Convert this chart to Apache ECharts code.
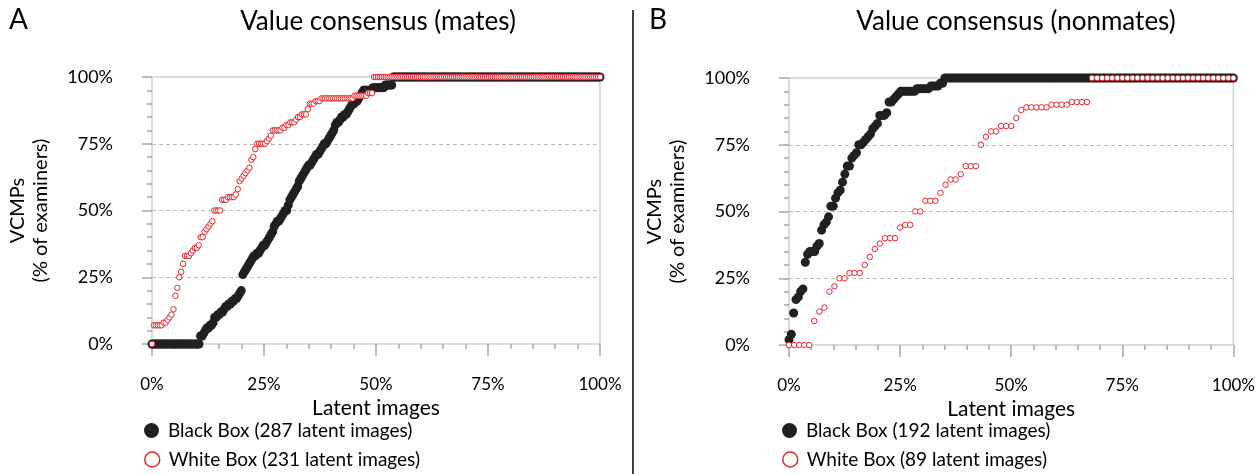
<!DOCTYPE html>
<html>
<head>
<meta charset="UTF-8">
<title>Value consensus</title>
<script src="https://cdn.jsdelivr.net/npm/echarts@6/dist/echarts.min.js"></script>
<style>
  html, body { margin: 0; padding: 0; background: #fff; }
  #chart { width: 1258px; height: 474px; }
</style>
</head>
<body>
<div id="chart"></div>
<script>
// sorted VCMP values (% of examiners) as [value, number of latent images]
var blackMates = [
  [0,31],[3,2],[4,1],[5,1],[6,2],[7,2],[8,1],[10,2],[11,2],[12,2],[13,1],[14,2],[15,2],[16,2],[17,2],[18,1],[19,1],[20,1],
  [26,1],[27,1],[28,1],[29,1],[30,1],[31,1],[32,1],[33,2],[34,2],[35,1],[36,1],[37,2],[38,1],[39,1],[40,1],[41,1],[42,1],
  [44,1],[45,1],[46,2],[47,1],[48,1],[49,1],[50,2],[52,1],[54,1],[55,1],[56,1],[57,1],[58,1],[59,1],[61,1],[62,1],[63,1],
  [64,1],[65,1],[66,1],[67,2],[68,1],[69,1],[70,1],[71,2],[72,1],[73,1],[74,1],[75,2],[76,1],[77,1],[78,1],[79,1],[80,1],
  [82,1],[83,2],[84,1],[85,2],[86,2],[87,1],[88,1],[89,1],[90,2],[91,2],[92,1],[93,1],[94,1],[95,6],[96,8],[97,5],[100,133]
];
var whiteMates = [
  [0,1],[7,5],[8,2],[9,1],[10,1],[11,1],[13,1],[18,1],[21,1],[25,1],[27,1],[30,1],[33,3],[34,1],[35,1],[36,2],[37,1],
  [40,2],[42,1],[43,1],[44,1],[45,1],[46,1],[50,4],[54,3],[55,4],[56,1],[58,1],[61,1],[62,1],[63,1],[64,1],[65,1],[66,1],
  [69,1],[70,1],[73,1],[75,5],[76,1],[77,1],[78,1],[80,5],[81,2],[82,2],[83,3],[84,1],[85,2],[86,3],[88,1],[90,3],[91,3],
  [92,17],[93,7],[94,3],[100,117]
];
var blackNonmates = [
  [2,1],[4,1],[12,1],[17,1],[18,1],[20,1],[21,1],[31,1],[34,1],[35,3],[37,1],[38,1],[43,1],[45,1],[46,1],[48,1],[52,2],
  [55,1],[57,1],[58,1],[61,1],[64,1],[67,2],[70,1],[71,1],[72,1],[75,2],[76,1],[77,1],[78,1],[79,1],[81,1],[82,1],[83,1],
  [86,3],[87,1],[91,2],[92,1],[93,1],[94,1],[95,7],[96,6],[97,4],[98,2],[100,125]
];
var whiteNonmates = [
  [0,5],[9,1],[12.5,1],[14,1],[20,1],[22,1],[25,2],[27,3],[30,1],[33,1],[36,1],[38,1],[40,3],[44,1],[45,2],[50,2],[54,3],
  [57,1],[60,1],[62,2],[64,1],[67,3],[75,1],[78,1],[80,2],[82,3],[85,1],[88,1],[89,5],[90,4],[91,4],[100,29]
];
var panelTitles = ['Value consensus (mates)', 'Value consensus (nonmates)'];
var panelLetters = ['A', 'B'];
var blackNames = ['Black Box (287 latent images)', 'Black Box (192 latent images)'];
var whiteNames = ['White Box (231 latent images)', 'White Box (89 latent images)'];

var FONT = 'Lato';
var BLACK = '#231f20';
var RED = '#e8262f';
var TICK = '#a6a6a6';

// runs -> points, x = rank position in % of latent images
function toPoints(runs) {
  var vals = [];
  runs.forEach(function (r) { for (var k = 0; k < r[1]; k++) vals.push(r[0]); });
  var n = vals.length;
  return vals.map(function (v, i) { return [i / (n - 1) * 100, v]; });
}

var grids = [
  { left: 152, top: 77, width: 448, height: 267 },
  { left: 789, top: 78, width: 446, height: 267 }
];

var xAxes = [], yAxes = [], series = [], legends = [], graphics = [];
var data = [[blackMates, whiteMates], [blackNonmates, whiteNonmates]];
var legendLeft = [144, 782];

function legendItem(left, top, item) {
  return {
    orient: 'horizontal', left: left, top: top, padding: 0,
    itemWidth: 15, itemHeight: 15, icon: 'circle', selectedMode: false,
    textStyle: { fontSize: 19, color: '#000', fontFamily: FONT, padding: [0, 0, 0, 4] },
    data: [item]
  };
}

for (var p = 0; p < 2; p++) {
  grids[p].show = true;
  grids[p].borderColor = '#cfcfcf';
  grids[p].borderWidth = 1.5;
  grids[p].containLabel = false;

  xAxes.push({
    gridIndex: p, type: 'value', min: 0, max: 100, interval: 25, offset: 13,
    axisLine: { show: false },
    axisTick: { show: true, length: 12, lineStyle: { color: TICK, width: 1.5 } },
    minorTick: { show: true, splitNumber: 5, length: 5, lineStyle: { color: TICK, width: 1.5 } },
    splitLine: { show: false },
    axisLabel: { formatter: '{value}%', fontSize: 17, color: '#000', margin: 19, fontFamily: FONT },
    name: 'Latent images', nameLocation: 'middle', nameGap: 35,
    nameTextStyle: { fontSize: 21, color: '#000', fontFamily: FONT }
  });
  yAxes.push({
    gridIndex: p, type: 'value', min: 0, max: 100, interval: 25, offset: 17,
    axisLine: { show: false },
    axisTick: { show: true, length: 10, lineStyle: { color: TICK, width: 1.5 } },
    minorTick: { show: true, splitNumber: 5, length: 5, lineStyle: { color: TICK, width: 1.5 } },
    splitLine: { show: true, showMinLine: false, showMaxLine: false,
      lineStyle: { type: [4, 3], color: '#bdbdbd', width: 1 } },
    axisLabel: { formatter: '{value}%', fontSize: 18, color: '#000', margin: 22, fontFamily: FONT },
    name: 'VCMPs\n(% of examiners)', nameLocation: 'middle', nameRotate: 90, nameGap: 83,
    nameTextStyle: { fontSize: 20, lineHeight: 23, color: '#000', fontFamily: FONT, align: 'center' }
  });

  series.push({
    name: blackNames[p], type: 'scatter', xAxisIndex: p, yAxisIndex: p,
    symbol: 'circle', symbolSize: 9,
    itemStyle: { color: BLACK, opacity: 1 },
    data: toPoints(data[p][0])
  });
  series.push({
    name: whiteNames[p], type: 'scatter', xAxisIndex: p, yAxisIndex: p,
    symbol: 'circle', symbolSize: 5.5,
    itemStyle: { color: '#fff', borderColor: RED, borderWidth: 1, opacity: 1 },
    data: toPoints(data[p][1])
  });

  legends.push(legendItem(legendLeft[p], 421,
    { name: blackNames[p], itemStyle: { color: BLACK, borderWidth: 0 } }));
  legends.push(legendItem(legendLeft[p], 450,
    { name: whiteNames[p], itemStyle: { color: '#fff', borderColor: RED, borderWidth: 1.5 } }));
}

graphics.push(
  { type: 'text', left: 9, top: 6, style: { text: panelLetters[0], fontSize: 28, fill: '#000', fontFamily: FONT } },
  { type: 'text', left: 649, top: 6, style: { text: panelLetters[1], fontSize: 28, fill: '#000', fontFamily: FONT } },
  { type: 'text', x: 378, y: 22, style: { text: panelTitles[0], fontSize: 26, fill: '#000', fontFamily: FONT, align: 'center', verticalAlign: 'middle' } },
  { type: 'text', x: 1016, y: 22, style: { text: panelTitles[1], fontSize: 26, fill: '#000', fontFamily: FONT, align: 'center', verticalAlign: 'middle' } },
  { type: 'line', shape: { x1: 633, y1: 10, x2: 633, y2: 474 }, style: { stroke: '#000', lineWidth: 1.5 } }
);

var chart = echarts.init(document.getElementById('chart'), null, { renderer: 'canvas' });
chart.setOption({
  animation: false,
  backgroundColor: '#fff',
  grid: grids,
  xAxis: xAxes,
  yAxis: yAxes,
  legend: legends,
  series: series,
  graphic: graphics
});
</script>
</body>
</html>
